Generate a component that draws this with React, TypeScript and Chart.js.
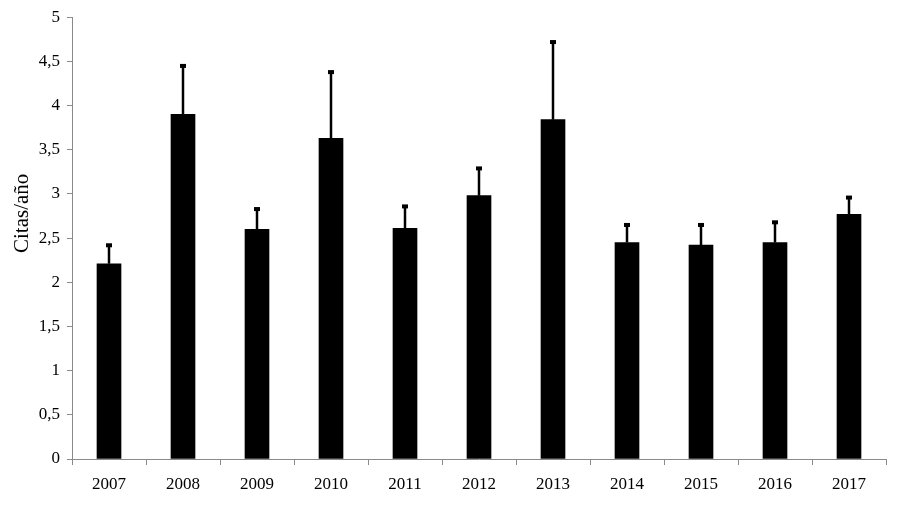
import React, { useEffect, useRef } from "react";
import { Chart, registerables } from "chart.js";

Chart.register(...registerables);

const years = ["2007", "2008", "2009", "2010", "2011", "2012", "2013", "2014", "2015", "2016", "2017"];
const meanValues = [2.21, 3.9, 2.6, 3.63, 2.61, 2.98, 3.84, 2.45, 2.42, 2.45, 2.77];
const upperValues = [2.43, 4.46, 2.84, 4.39, 2.87, 3.3, 4.73, 2.66, 2.66, 2.69, 2.97];
const yTicks = [0, 0.5, 1, 1.5, 2, 2.5, 3, 3.5, 4, 4.5, 5];
const yTitle = "Citas/año";

const FONT = "'Liberation Serif', 'Times New Roman', serif";

const errorBarPlugin = {
  id: "errorBars",
  afterDatasetsDraw(chart: any) {
    const ctx = chart.ctx;
    const meta = chart.getDatasetMeta(0);
    const yScale = chart.scales.y;
    ctx.save();
    ctx.fillStyle = "#000";
    ctx.strokeStyle = "#000";
    meta.data.forEach((bar: any, i: number) => {
      const x = bar.x;
      const yTop = yScale.getPixelForValue(upperValues[i]);
      const yBar = yScale.getPixelForValue(meanValues[i]);
      ctx.lineWidth = 2.5;
      ctx.beginPath();
      ctx.moveTo(x, yBar);
      ctx.lineTo(x, yTop);
      ctx.stroke();
      ctx.fillRect(x - 3, yTop - 1, 6, 4);
    });
    ctx.restore();
  },
};

const yTitlePlugin = {
  id: "yTitle",
  afterDraw(chart: any) {
    const ctx = chart.ctx;
    const yScale = chart.scales.y;
    const cy = yScale.getPixelForValue(2.78);
    ctx.save();
    ctx.translate(22, cy);
    ctx.rotate(-Math.PI / 2);
    ctx.fillStyle = "#000";
    ctx.font = `21px ${FONT}`;
    ctx.textAlign = "center";
    ctx.textBaseline = "middle";
    ctx.fillText(yTitle, 0, 0);
    ctx.restore();
  },
};

export default function App() {
  const ref = useRef<HTMLCanvasElement>(null);
  useEffect(() => {
    if (!ref.current) return;
    const chart = new Chart(ref.current, {
      type: "bar",
      data: {
        labels: years,
        datasets: [
          {
            data: meanValues,
            backgroundColor: "#000",
            borderWidth: 0,
            barThickness: 24,
          },
        ],
      },
      options: {
        animation: false,
        responsive: false,
        maintainAspectRatio: false,
        layout: { padding: { top: 14, right: 12, left: 0, bottom: 0 } },
        plugins: { legend: { display: false }, tooltip: { enabled: false } },
        scales: {
          x: {
            grid: {
              display: true,
              drawOnChartArea: false,
              drawTicks: true,
              tickLength: 6,
              color: "#8a8a8a",
              offset: true,
            },
            border: { display: true, color: "#8a8a8a", width: 1 },
            ticks: { color: "#000", font: { family: FONT, size: 17 }, padding: 9 },
            afterFit: (s: any) => {
              s.height = 52;
            },
          },
          y: {
            min: 0,
            max: 5,
            afterBuildTicks: (s: any) => {
              s.ticks = yTicks.map((v) => ({ value: v }));
            },
            grid: {
              display: true,
              drawOnChartArea: false,
              drawTicks: true,
              tickLength: 5,
              color: "#8a8a8a",
            },
            border: { display: true, color: "#8a8a8a", width: 1 },
            ticks: {
              color: "#000",
              font: { family: FONT, size: 17 },
              padding: 7,
              callback: (v: any) => String(v).replace(".", ","),
            },
            title: { display: false },
            afterFit: (s: any) => {
              s.width = 72;
            },
          },
        },
      },
      plugins: [errorBarPlugin, yTitlePlugin],
    });
    return () => chart.destroy();
  }, []);
  return (
    <div style={{ position: "fixed", left: 0, top: 0, width: 898, height: 511, background: "#fff" }}>
      <canvas ref={ref} width={898} height={511} style={{ width: 898, height: 511 }} />
    </div>
  );
}
